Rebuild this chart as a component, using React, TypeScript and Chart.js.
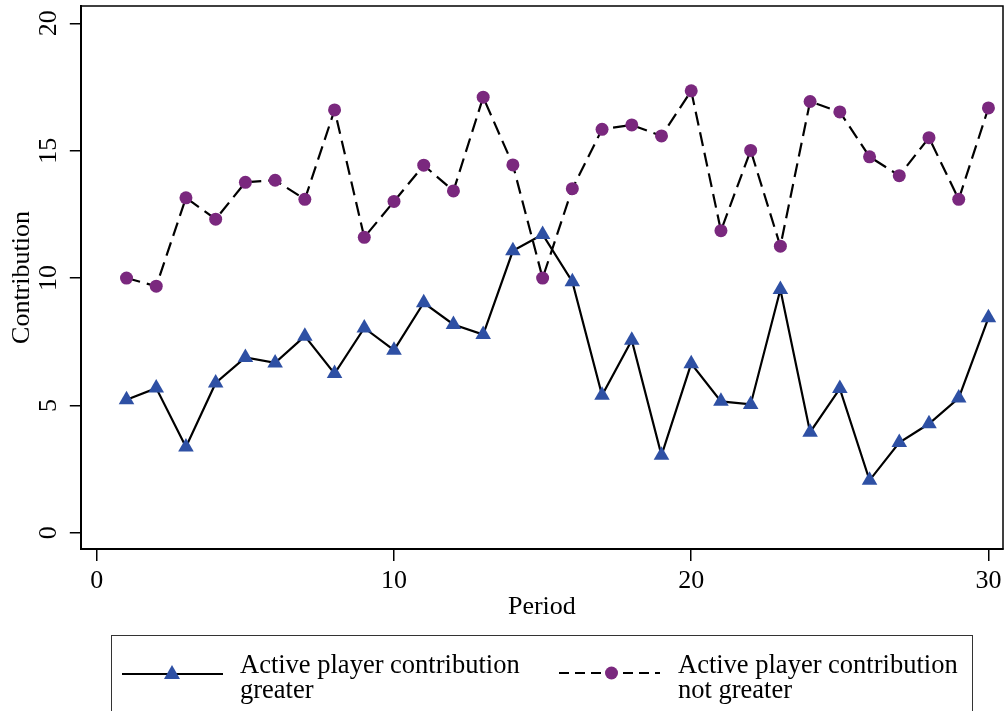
import React, { useEffect, useRef } from "react";
import { Chart, registerables } from "chart.js";

Chart.register(...registerables);

const periods = [1, 2, 3, 4, 5, 6, 7, 8, 9, 10, 11, 12, 13, 14, 15, 16, 17, 18, 19, 20, 21, 22, 23, 24, 25, 26, 27, 28, 29, 30];
const greater = [5.22, 5.68, 3.37, 5.88, 6.88, 6.67, 7.72, 6.25, 8.04, 7.17, 9.03, 8.18, 7.78, 11.07, 11.71, 9.86, 5.4, 7.56, 3.04, 6.64, 5.16, 5.04, 9.55, 3.95, 5.66, 2.06, 3.54, 4.28, 5.29, 8.44];
const notGreater = [10.0, 9.68, 13.15, 12.31, 13.76, 13.84, 13.09, 16.6, 11.6, 13.01, 14.43, 13.42, 17.1, 14.44, 10.0, 13.51, 15.84, 16.01, 15.58, 17.35, 11.86, 15.01, 11.25, 16.93, 16.52, 14.76, 14.02, 15.51, 13.09, 16.68];
const xTicks = [0, 10, 20, 30];
const yTicks = [0, 5, 10, 15, 20];
const seriesNames = ["Active player contribution greater", "Active player contribution not greater"];
const legendLines = [
  ["Active player contribution", "greater"],
  ["Active player contribution", "not greater"],
];
const xTitle = "Period";
const yTitle = "Contribution";

const BLUE = "rgb(46,80,164)";
const PURPLE = "rgb(122,40,126)";
const FONT = "'Liberation Serif', 'Times New Roman', serif";

const frameAndYLabels = {
  id: "frameAndYLabels",
  afterDraw(chart: any) {
    const { ctx, chartArea } = chart;
    const y = chart.scales.y;
    ctx.save();
    ctx.strokeStyle = "#000";
    ctx.lineWidth = 1.5;
    ctx.strokeRect(chartArea.left, chartArea.top, chartArea.right - chartArea.left, chartArea.bottom - chartArea.top);
    ctx.fillStyle = "#000";
    ctx.font = `26px ${FONT}`;
    ctx.textAlign = "center";
    ctx.textBaseline = "middle";
    for (const t of y.ticks) {
      const py = y.getPixelForValue(t.value);
      ctx.save();
      ctx.translate(49.5, py);
      ctx.rotate(-Math.PI / 2);
      ctx.fillText(String(t.value), 0, 0);
      ctx.restore();
    }
    ctx.restore();
  },
};

const zeroPad = (s: any) => {
  s.paddingLeft = 0;
  s.paddingRight = 0;
  s.paddingTop = 0;
  s.paddingBottom = 0;
};

export default function App() {
  const ref = useRef<HTMLCanvasElement | null>(null);

  useEffect(() => {
    document.body.style.margin = "0";
    const canvas = ref.current;
    if (!canvas) return;
    const chart = new Chart(canvas, {
      type: "line",
      data: {
        datasets: [
          {
            label: seriesNames[0],
            data: periods.map((p, i) => ({ x: p, y: greater[i] })),
            borderColor: "#000",
            borderWidth: 2.2,
            pointStyle: "triangle",
            pointRadius: 9,
            pointBackgroundColor: BLUE,
            pointBorderColor: BLUE,
            pointBorderWidth: 0,
            tension: 0,
            fill: false,
          },
          {
            label: seriesNames[1],
            data: periods.map((p, i) => ({ x: p, y: notGreater[i] })),
            borderColor: "#000",
            borderWidth: 2.2,
            borderDash: [14, 7],
            pointStyle: "circle",
            pointRadius: 6.5,
            pointBackgroundColor: PURPLE,
            pointBorderColor: PURPLE,
            pointBorderWidth: 0,
            tension: 0,
            fill: false,
          },
        ],
      },
      options: {
        animation: false,
        responsive: false,
        maintainAspectRatio: false,
        devicePixelRatio: 1,
        layout: { autoPadding: false, padding: { left: 0, top: 6, right: 5, bottom: 0 } },
        plugins: { legend: { display: false }, tooltip: { enabled: false }, title: { display: false } },
        scales: {
          x: {
            type: "linear",
            position: "bottom",
            min: -0.538,
            max: 30.49,
            afterBuildTicks: (s: any) => {
              s.ticks = xTicks.map((v) => ({ value: v }));
            },
            afterFit: zeroPad,
            grid: { display: true, drawOnChartArea: false, drawTicks: true, tickLength: 12, color: "#000", lineWidth: 1.5 },
            border: { display: true, color: "#000", width: 2 },
            ticks: { color: "#000", padding: 0, font: { family: FONT, size: 26, lineHeight: 40 / 26 }, maxRotation: 0, minRotation: 0 },
            title: { display: true, text: xTitle, color: "#000", font: { family: FONT, size: 26, lineHeight: 1 }, padding: { top: -7, bottom: 91 } },
          },
          y: {
            type: "linear",
            min: -0.636,
            max: 20.68,
            afterBuildTicks: (s: any) => {
              s.ticks = yTicks.map((v) => ({ value: v }));
            },
            afterFit: zeroPad,
            grid: { display: true, drawOnChartArea: false, drawTicks: true, tickLength: 11, color: "#000", lineWidth: 1.5 },
            border: { display: true, color: "#000", width: 2 },
            ticks: { display: false },
            title: { display: true, text: yTitle, color: "#000", font: { family: FONT, size: 26, lineHeight: 1 }, padding: { top: 8.8, bottom: 35 } },
          },
        },
      },
      plugins: [frameAndYLabels],
    });
    return () => chart.destroy();
  }, []);

  const textStyle: React.CSSProperties = {
    position: "absolute",
    fontFamily: FONT,
    fontSize: "26.5px",
    lineHeight: "25px",
    color: "#000",
    whiteSpace: "nowrap",
  };

  return (
    <div style={{ position: "relative", width: 1008, height: 711, overflow: "hidden", background: "#fff" }}>
      <canvas ref={ref} width={1008} height={711} style={{ position: "absolute", left: 0, top: 0, width: 1008, height: 711 }} />
      <div
        style={{
          position: "absolute",
          left: 111,
          top: 635,
          width: 862,
          height: 120,
          border: "1.5px solid #333",
          boxSizing: "border-box",
        }}
      />
      <svg width={1008} height={711} style={{ position: "absolute", left: 0, top: 0 }}>
        <line x1={122} y1={674} x2={223} y2={674} stroke="#000" strokeWidth={2.2} />
        <polygon points="172,665 180,679 164,679" fill={BLUE} />
        <line x1={559} y1={673} x2={660} y2={673} stroke="#000" strokeWidth={2.2} strokeDasharray="10 6" />
        <circle cx={611.5} cy={673} r={6.5} fill={PURPLE} />
      </svg>
      <div style={{ ...textStyle, left: 240, top: 651.5 }}>
        {legendLines[0][0]}
        <br />
        {legendLines[0][1]}
      </div>
      <div style={{ ...textStyle, left: 678, top: 651.5 }}>
        {legendLines[1][0]}
        <br />
        {legendLines[1][1]}
      </div>
    </div>
  );
}
